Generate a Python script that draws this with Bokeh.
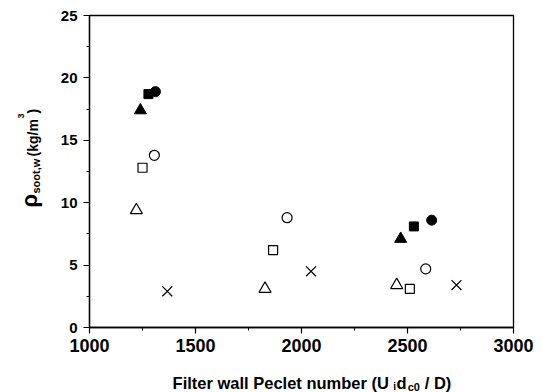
import math
from bokeh.plotting import figure
from bokeh.layouts import row, column
from bokeh.models import FixedTicker, Range1d
from bokeh.core.properties import value
from bokeh.embed import file_html
from bokeh.resources import INLINE

# ---- data ----
filled_circle_x = [1311, 2614]
filled_circle_y = [18.9, 8.6]
filled_square_x = [1278, 2530]
filled_square_y = [18.7, 8.1]
filled_triangle_x = [1240, 2468]
filled_triangle_y = [17.4, 7.1]
open_circle_x = [1306, 1932, 2586]
open_circle_y = [13.8, 8.8, 4.7]
open_square_x = [1250, 1866, 2511]
open_square_y = [12.8, 6.2, 3.1]
open_triangle_x = [1221, 1828, 2449]
open_triangle_y = [9.4, 3.1, 3.4]
cross_x = [1367, 2045, 2731]
cross_y = [2.9, 4.5, 3.4]

x_ticks = [1000, 1500, 2000, 2500, 3000]
x_minor = [1250, 1750, 2250, 2750]
y_ticks = [0, 5, 10, 15, 20, 25]
y_minor = [2.5, 7.5, 12.5, 17.5, 22.5]

FONT = "Liberation Sans"

# ---- main plot ----
p = figure(width=497, height=360,
           min_border_left=44, min_border_right=29,
           min_border_top=15, min_border_bottom=33,
           x_range=Range1d(1000, 3000), y_range=Range1d(0, 25),
           output_backend="svg", toolbar_location=None,
           background_fill_color="white", border_fill_color="white")

p.grid.visible = False
p.outline_line_color = "black"
p.outline_line_width = 1.3

p.xaxis.ticker = FixedTicker(ticks=x_ticks, minor_ticks=x_minor)
p.yaxis.ticker = FixedTicker(ticks=y_ticks, minor_ticks=y_minor)
for ax in (p.xaxis[0], p.yaxis[0]):
    ax.axis_line_color = "black"
    ax.axis_line_width = 1.3
    ax.major_tick_line_color = "black"
    ax.minor_tick_line_color = "black"
    ax.major_tick_line_width = 1.2
    ax.minor_tick_line_width = 1.0
    ax.major_tick_out = 6
    ax.major_tick_in = 0
    ax.minor_tick_out = 3
    ax.minor_tick_in = 0
    ax.major_label_text_font = FONT
    ax.major_label_text_font_style = "bold"
    ax.major_label_text_color = "black"
p.xaxis.major_label_text_font_size = "18px"
p.yaxis.major_label_text_font_size = "15px"
p.xaxis.major_label_standoff = 5
p.yaxis.major_label_standoff = 6

# ---- markers ----
lw = 1.2
p.scatter(filled_circle_x, filled_circle_y, marker="circle", size=10,
          fill_color="black", line_color="black")
p.scatter(filled_square_x, filled_square_y, marker="square", size=9,
          fill_color="black", line_color="black")
p.scatter(filled_triangle_x, filled_triangle_y, marker="triangle", size=12,
          fill_color="black", line_color="black")
p.scatter(open_circle_x, open_circle_y, marker="circle", size=10,
          fill_color="white", line_color="black", line_width=lw)
p.scatter(open_square_x, open_square_y, marker="square", size=9,
          fill_color="white", line_color="black", line_width=lw)
p.scatter(open_triangle_x, open_triangle_y, marker="triangle", size=12,
          fill_color="white", line_color="black", line_width=lw)
p.scatter(cross_x, cross_y, marker="x", size=14,
          line_color="black", line_width=lw)


def helper(w, h):
    f = figure(width=w, height=h, x_range=Range1d(0, w), y_range=Range1d(0, h),
               min_border=0, x_axis_type=None, y_axis_type=None,
               output_backend="svg", toolbar_location=None,
               background_fill_color="white", border_fill_color="white")
    f.grid.visible = False
    f.outline_line_color = None
    return f


def put(f, txt, x, y, size, angle=0.0, align="left"):
    f.text(x=[x], y=[y], text=[txt], angle=angle,
           text_font=value(FONT), text_font_style="bold",
           text_font_size=size, text_color="black",
           text_baseline="alphabetic", text_align=align)


# ---- y axis title (left strip, 45 px wide, pixel coordinates) ----
yl = helper(45, 392)
a = math.pi / 2
put(yl, "\u03c1", 29, 185, "22px", a)
put(yl, "soot,w", 35, 199, "11px", a)
put(yl, "(kg/m", 32, 236, "14px", a)
put(yl, "3", 20.5, 274, "9px", a)
put(yl, ")", 32, 279, "14px", a)

# ---- x axis title (bottom strip, pixel coordinates) ----
xl = helper(497, 32)
put(xl, "Filter wall Peclet number (U", 351, 10, "16.5px", align="right")
put(xl, "i", 356, 6, "10px")
put(xl, "d", 360, 10, "16.5px")
put(xl, "c0", 373, 6, "11px")
put(xl, "/ D)", 393, 10, "16.5px")

layout = row(yl, column(p, xl, spacing=0), spacing=0)

open("out.html", "w").write(file_html(layout, INLINE))
